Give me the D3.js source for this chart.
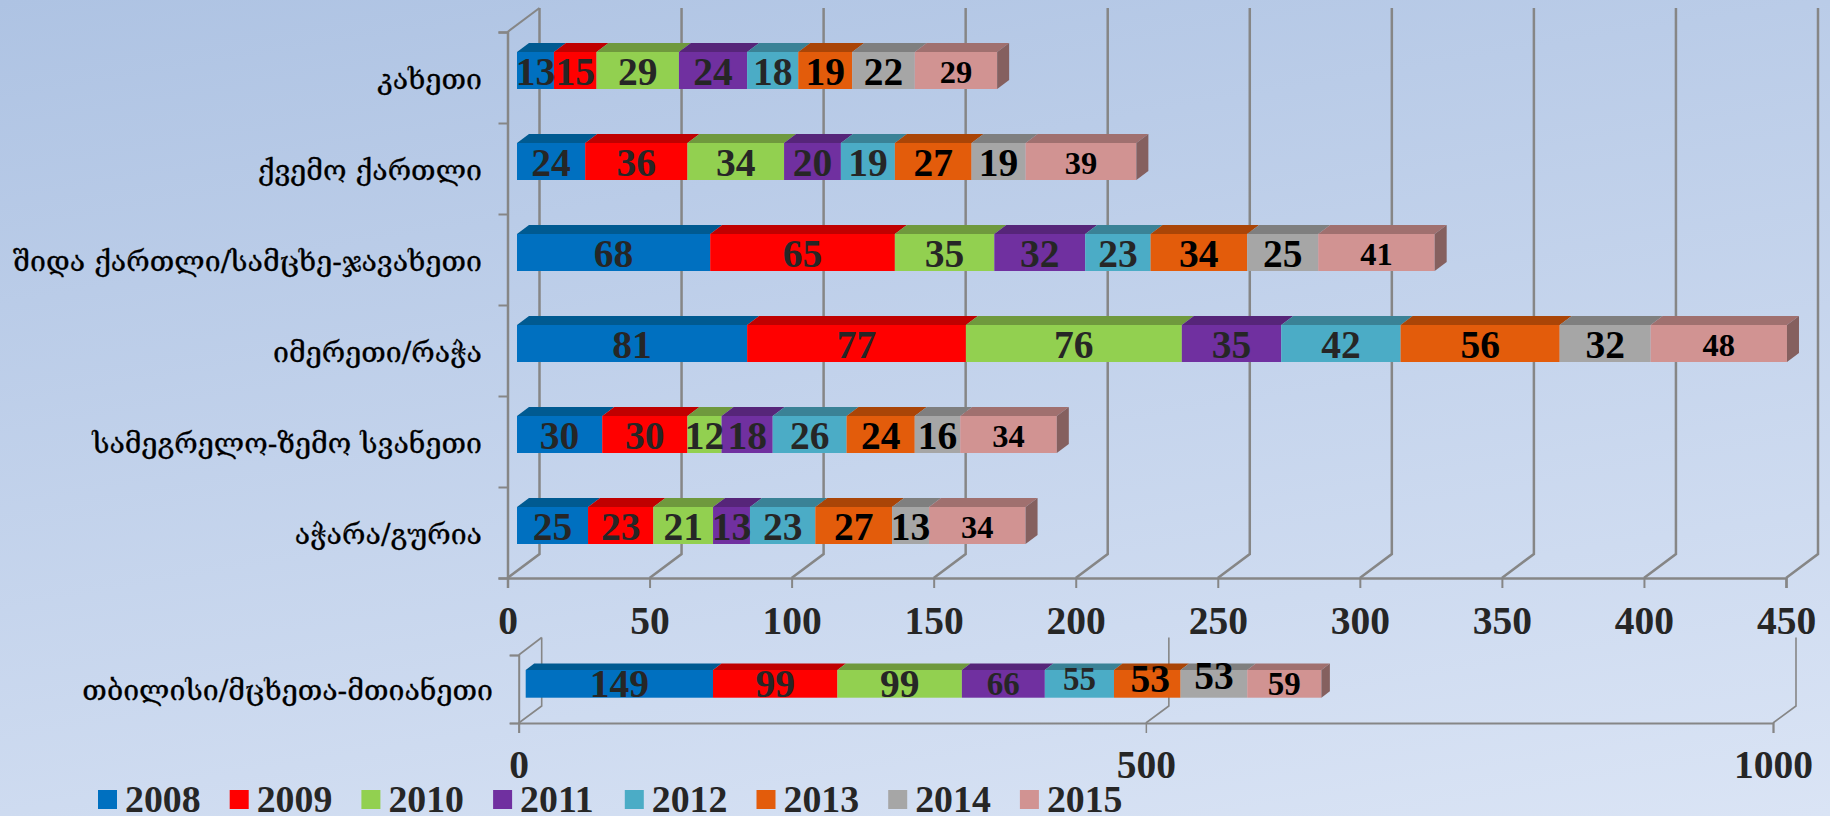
<!DOCTYPE html>
<html>
<head>
<meta charset="utf-8">
<script src="https://cdn.jsdelivr.net/npm/d3@7/dist/d3.min.js"></script>
<style>
  html, body { margin: 0; padding: 0; overflow: hidden; }
  svg { display: block; }
  text { font-family: "Liberation Serif", serif; font-weight: bold; }
  .cat { font-family: "DejaVu Serif", "DejaVu Sans", serif; font-weight: normal; fill: #000; stroke: #000; stroke-width: 0.3px; }
</style>
</head>
<body>
<div id="chart"></div>
<script>
var categories = ["კახეთი", "ქვემო ქართლი", "შიდა ქართლი/სამცხე-ჯავახეთი", "იმერეთი/რაჭა", "სამეგრელო-ზემო სვანეთი", "აჭარა/გურია"];
var years = ["2008", "2009", "2010", "2011", "2012", "2013", "2014", "2015"];

// one list per year, same order as categories
var v2008 = [13, 24, 68, 81, 30, 25];
var v2009 = [15, 36, 65, 77, 30, 23];
var v2010 = [29, 34, 35, 76, 12, 21];
var v2011 = [24, 20, 32, 35, 18, 13];
var v2012 = [18, 19, 23, 42, 26, 23];
var v2013 = [19, 27, 34, 56, 24, 27];
var v2014 = [22, 19, 25, 32, 16, 13];
var v2015 = [29, 39, 41, 48, 34, 34];

var tbilisiCategory = "თბილისი/მცხეთა-მთიანეთი";
var tbilisiValues = [149, 99, 99, 66, 55, 53, 53, 59];

var upperTicks = [0, 50, 100, 150, 200, 250, 300, 350, 400, 450];
var lowerTicks = [0, 500, 1000];

var faceColors = ["#0070c0", "#ff0000", "#92d050", "#7030a0", "#4bacc6", "#e35c0b", "#a6a6a6", "#d19392"];
var topColors = ["#005a91", "#c00000", "#6f993d", "#562579", "#3a8296", "#aa4507", "#7f7f7f", "#a0706f"];
var sideColors = ["#004b79", "#a00000", "#5d8033", "#481f65", "#306d7d", "#8e3b06", "#6a6a6a", "#85605f"];
var labelColors = ["#262626", "#262626", "#262626", "#262626", "#262626", "#000", "#000", "#000"];
var gridColor = "#868686";

var width = 1830, height = 816;

var svg = d3.select("#chart").append("svg")
    .attr("width", width)
    .attr("height", height);

var grad = svg.append("defs").append("linearGradient")
    .attr("id", "bg")
    .attr("gradientUnits", "userSpaceOnUse")
    .attr("x1", 0).attr("y1", 0)
    .attr("x2", 182).attr("y2", 1090);
grad.append("stop").attr("offset", "0%").attr("stop-color", "#aec3e3");
grad.append("stop").attr("offset", "100%").attr("stop-color", "#dae4f5");

svg.append("rect")
    .attr("width", width)
    .attr("height", height)
    .attr("fill", "url(#bg)");

var pts = function(a) { return a.map(function(p) { return p.join(","); }).join(" "); };

// draws one 3d stacked bar, segs = [{x0, x1, i}]
function drawBar(g, segs, top, h, dx, dy) {
  var bar = g.append("g").attr("class", "bar");
  segs.forEach(function(s) {
    bar.append("polygon")
        .attr("points", pts([[s.x0, top], [s.x0 + dx, top - dy], [s.x1 + dx, top - dy], [s.x1, top]]))
        .attr("fill", topColors[s.i]);
    bar.append("rect")
        .attr("x", s.x0)
        .attr("y", top)
        .attr("width", s.x1 - s.x0)
        .attr("height", h)
        .attr("fill", faceColors[s.i]);
  });
  var last = segs[segs.length - 1];
  bar.append("polygon")
      .attr("points", pts([[last.x1, top], [last.x1 + dx, top - dy], [last.x1 + dx, top + h - dy], [last.x1, top + h]]))
      .attr("fill", sideColors[last.i]);
}

function styleAxis(g, sw) {
  g.selectAll("path.domain").attr("stroke", gridColor).attr("stroke-width", sw);
  g.selectAll(".tick line").attr("stroke", gridColor).attr("stroke-width", sw - 0.5);
  g.selectAll(".tick text")
      .attr("fill", "#262626")
      .style("font-family", '"Liberation Serif", serif')
      .style("font-weight", "bold")
      .style("font-size", "39.5px");
}

/* ---------- upper chart ---------- */
var upper = svg.append("g");

var x = d3.scaleLinear().domain([0, 450]).range([507.5, 1786]);
var xBar = d3.scaleLinear().domain([0, 450]).range([517, 1795.5]);
var yBand = d3.scaleBand().domain(categories).range([32, 578]);
var yEdge = d3.scaleLinear().domain([0, categories.length]).range([578, 32]);

var wallDx = 32, wallDy = 24;

// back wall grid lines with the diagonal down to the floor
upper.selectAll("path.grid")
    .data(upperTicks)
  .enter().append("path")
    .attr("class", "grid")
    .attr("fill", "none")
    .attr("stroke", gridColor)
    .attr("stroke-width", 2.5)
    .attr("d", function(d) {
      return "M" + (x(d) + wallDx) + ",8V" + (578 - wallDy) + "L" + x(d) + ",578";
    });

upper.append("path")
    .attr("fill", "none")
    .attr("stroke", gridColor)
    .attr("stroke-width", 2)
    .attr("d", "M" + x(0) + ",32L" + (x(0) + wallDx) + ",8");

var xAxisG = upper.append("g")
    .attr("transform", "translate(0,578)")
    .call(d3.axisBottom(x).tickValues(upperTicks).tickFormat(d3.format("d")).tickSizeOuter(0).tickSize(10).tickPadding(17.7));
styleAxis(xAxisG, 2.5);

var yAxisG = upper.append("g")
    .attr("transform", "translate(" + x(0) + ",0)")
    .call(d3.axisLeft(yEdge).tickValues(d3.range(categories.length + 1)).tickFormat("").tickSizeOuter(0).tickSize(9));
styleAxis(yAxisG, 2.5);

var series = [v2008, v2009, v2010, v2011, v2012, v2013, v2014, v2015];
var rows = categories.map(function(c, r) {
  var row = {category: c};
  years.forEach(function(y, i) { row[y] = series[i][r]; });
  return row;
});
var stacked = d3.stack().keys(years)(rows);

var barTop = 20, barH = 37;

categories.forEach(function(c, r) {
  var top = yBand(c) + barTop;
  var segs = stacked.map(function(layer, i) {
    return {x0: xBar(layer[r][0]), x1: xBar(layer[r][1]), i: i, v: layer[r][1] - layer[r][0]};
  });
  drawBar(upper, segs, top, barH, 12, 9);

  upper.append("g").selectAll("text")
      .data(segs)
    .enter().append("text")
      .attr("x", function(d) { return (d.x0 + d.x1) / 2; })
      .attr("y", function(d) { return top + (d.i == 7 ? 30.5 : 32.7); })
      .attr("text-anchor", "middle")
      .attr("fill", function(d) { return labelColors[d.i]; })
      .style("font-size", function(d) { return d.i == 7 ? "32.5px" : "39.5px"; })
      .text(function(d) { return d.v; });

  upper.append("text")
      .attr("class", "cat")
      .attr("x", 482)
      .attr("y", yBand(c) + 57)
      .attr("text-anchor", "end")
      .style("font-size", "28.5px")
      .text(c);
});

/* ---------- lower chart ---------- */
var lower = svg.append("g");

var x2 = d3.scaleLinear().domain([0, 1000]).range([518.7, 1773]);
var x2Bar = d3.scaleLinear().domain([0, 1000]).range([525.7, 1782.7]);
var y2Edge = d3.scaleLinear().domain([0, 1]).range([723, 655]);
var wall2Dx = 23, wall2Dy = 17;

lower.selectAll("path.grid")
    .data(lowerTicks)
  .enter().append("path")
    .attr("class", "grid")
    .attr("fill", "none")
    .attr("stroke", gridColor)
    .attr("stroke-width", 1.6)
    .attr("d", function(d) {
      return "M" + (x2(d) + wall2Dx) + ",637.5V" + (723 - wall2Dy) + "L" + x2(d) + ",723";
    });

lower.append("path")
    .attr("fill", "none")
    .attr("stroke", gridColor)
    .attr("stroke-width", 1.6)
    .attr("d", "M" + x2(0) + ",655L" + (x2(0) + wall2Dx) + ",637.5");

var x2AxisG = lower.append("g")
    .attr("transform", "translate(0,723)")
    .call(d3.axisBottom(x2).tickValues(lowerTicks).tickFormat(d3.format("d")).tickSizeOuter(0).tickSize(10).tickPadding(17.2));
styleAxis(x2AxisG, 2);

var y2AxisG = lower.append("g")
    .attr("transform", "translate(" + x2(0) + ",0)")
    .call(d3.axisLeft(y2Edge).tickValues([0, 1]).tickFormat("").tickSizeOuter(0).tickSize(9));
styleAxis(y2AxisG, 2);

var run = 0;
var segs2 = tbilisiValues.map(function(v, i) {
  var s = {x0: x2Bar(run), x1: x2Bar(run + v), i: i, v: v};
  run += v;
  return s;
});
drawBar(lower, segs2, 670, 27.7, 8.5, 6.5);

// these labels were nudged by hand in the original
var lower2Size = [39.5, 39.5, 39.5, 33, 33, 39.5, 39.5, 33];
var lower2Base = [696.7, 696.7, 696.7, 695, 690, 691.7, 689, 695];
var lower2Nudge = [0, 0, 0, 0, 0, 3, 0, 0];

lower.append("g").selectAll("text")
    .data(segs2)
  .enter().append("text")
    .attr("x", function(d) { return (d.x0 + d.x1) / 2 + lower2Nudge[d.i]; })
    .attr("y", function(d) { return lower2Base[d.i]; })
    .attr("text-anchor", "middle")
    .attr("fill", function(d) { return labelColors[d.i]; })
    .style("font-size", function(d) { return lower2Size[d.i] + "px"; })
    .text(function(d) { return d.v; });

lower.append("text")
    .attr("class", "cat")
    .attr("x", 493)
    .attr("y", 700)
    .attr("text-anchor", "end")
    .style("font-size", "28.5px")
    .text(tbilisiCategory);

/* ---------- legend ---------- */
var legend = svg.append("g").selectAll("g")
    .data(years)
  .enter().append("g")
    .attr("transform", function(d, i) { return "translate(" + (98 + i * 131.7) + ",790)"; });

legend.append("rect")
    .attr("width", 19)
    .attr("height", 19)
    .attr("fill", function(d, i) { return faceColors[i]; });

legend.append("text")
    .attr("x", 27)
    .attr("y", 21.7)
    .attr("fill", "#262626")
    .style("font-size", "37.8px")
    .text(function(d) { return d; });
</script>
</body>
</html>
